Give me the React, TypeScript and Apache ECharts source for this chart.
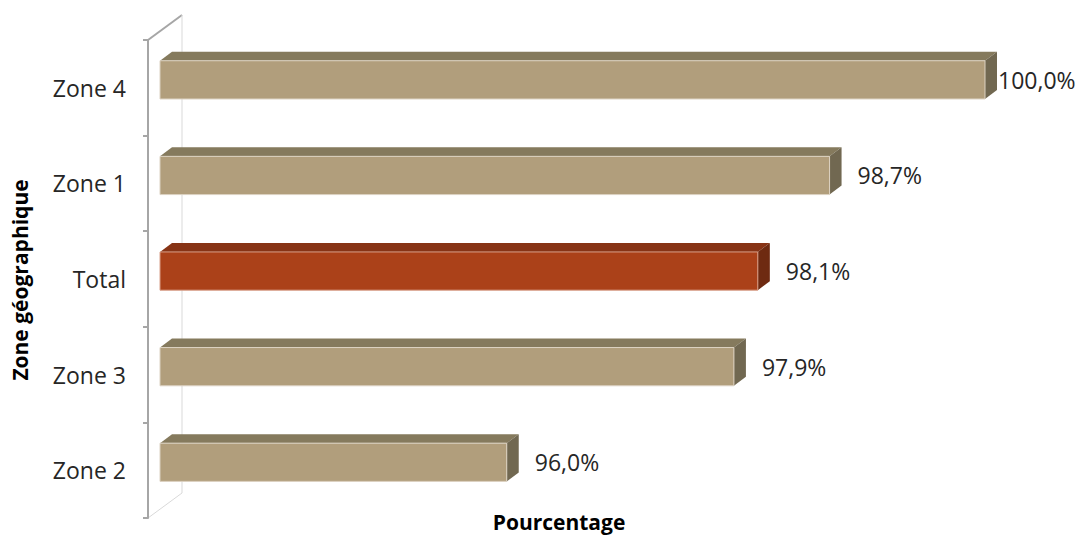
import React, { useEffect, useRef } from "react";
import * as echarts from "echarts";

const categories = ["Zone 2", "Zone 3", "Total", "Zone 1", "Zone 4"];
const values = [96.0, 97.9, 98.1, 98.7, 100.0];
const xMin = 93.1;
const xMax = 100;
const xAxisTitle = "Pourcentage";
const yAxisTitle = "Zone géographique";
const highlight = "Total";

const FONT = "'Open Sans', 'Noto Sans', sans-serif";

export default function App() {
  const ref = useRef<HTMLDivElement>(null);
  useEffect(() => {
    if (!ref.current) return;
    const chart = echarts.init(ref.current, undefined, { renderer: "svg" });
    const fmt = (v: number) => v.toFixed(1).replace(".", ",") + "%";
    const option: any = {
      animation: false,
      grid: { left: 160, right: 95, top: 40, bottom: 19, containLabel: false },
      xAxis: {
        type: "value",
        min: xMin,
        max: xMax,
        show: false,
      },
      yAxis: {
        type: "category",
        data: categories,
        offset: 12,
        axisLine: { show: true, lineStyle: { color: "#A6A6A6", width: 2 } },
        axisTick: { show: true, length: 5, inside: false, lineStyle: { color: "#A6A6A6", width: 2 } },
        axisLabel: { margin: 22, fontSize: 23, color: "#262626", fontFamily: FONT },
        splitLine: { show: false },
      },
      graphic: [
        { type: "line", shape: { x1: 148, y1: 40, x2: 182, y2: 15 }, style: { stroke: "#A6A6A6", lineWidth: 2 } },
        { type: "line", shape: { x1: 182, y1: 15, x2: 182, y2: 493 }, style: { stroke: "#D9D9D9", lineWidth: 1 } },
        { type: "line", shape: { x1: 148, y1: 518, x2: 182, y2: 493 }, style: { stroke: "#D9D9D9", lineWidth: 1 } },
        {
          type: "text",
          x: 559,
          y: 522,
          style: {
            text: xAxisTitle,
            fontSize: 21,
            fontWeight: "bold",
            fill: "#000",
            fontFamily: FONT,
            align: "center",
            verticalAlign: "middle",
          },
        },
        {
          type: "text",
          x: 20,
          y: 280,
          rotation: Math.PI / 2,
          style: {
            text: yAxisTitle,
            fontSize: 21,
            fontWeight: "bold",
            fill: "#000",
            fontFamily: FONT,
            align: "center",
            verticalAlign: "middle",
          },
        },
      ],
      series: [
        {
          type: "custom",
          encode: { x: 0, y: 1 },
          data: values.map((v, i) => [v, i]),
          renderItem: (params: any, api: any) => {
            const v = api.value(0);
            const ci = api.value(1);
            const end = api.coord([v, ci]);
            const start = api.coord([xMin, ci]);
            const band = api.size([0, 1])[1];
            const h = band * 0.4;
            const cy = end[1] - band * 0.083;
            const top = cy - h / 2;
            const bottom = cy + h / 2;
            const dx = 12;
            const dy = 9;
            const isHi = categories[ci] === highlight;
            const front = isHi ? "#AB4119" : "#B19E7C";
            const topC = isHi ? "#873315" : "#857A5D";
            const sideC = isHi ? "#6E2A11" : "#716851";
            const edge = isHi ? "#D9A08A" : "#DCD2C2";
            const x0 = start[0];
            const x1 = end[0];
            const lx = Math.min(x1 + 28, 998);
            return {
              type: "group",
              children: [
                {
                  type: "polygon",
                  shape: { points: [[x0, top], [x0 + dx, top - dy], [x1 + dx, top - dy], [x1, top]] },
                  style: { fill: topC },
                },
                {
                  type: "polygon",
                  shape: { points: [[x1, top], [x1 + dx, top - dy], [x1 + dx, bottom - dy], [x1, bottom]] },
                  style: { fill: sideC },
                },
                {
                  type: "rect",
                  shape: { x: x0, y: top, width: x1 - x0, height: h },
                  style: { fill: front, stroke: edge, lineWidth: 1 },
                },
                {
                  type: "text",
                  x: lx,
                  y: cy,
                  style: {
                    text: fmt(v),
                    fontSize: 23,
                    fill: "#262626",
                    fontFamily: FONT,
                    align: "left",
                    verticalAlign: "middle",
                  },
                },
              ],
            };
          },
        },
      ],
    };
    chart.setOption(option);
    return () => chart.dispose();
  }, []);
  return <div ref={ref} style={{ width: 1080, height: 537, position: "absolute", left: 0, top: 0 }} />;
}
